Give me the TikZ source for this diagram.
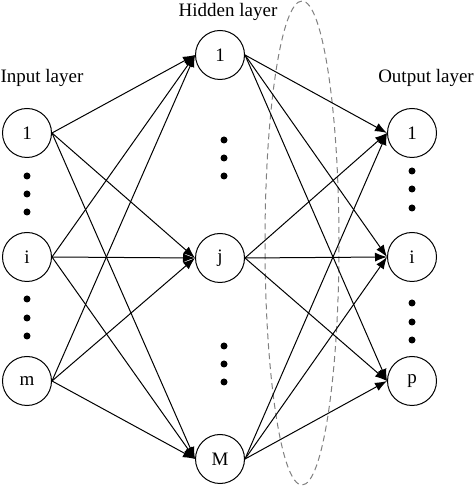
\documentclass[tikz,border=0pt]{standalone}
\usepackage{fontspec}
\setmainfont{Liberation Serif}
\usetikzlibrary{arrows.meta,shapes.geometric}
\begin{document}
\begin{tikzpicture}[x=1pt,y=1pt,
  neuron/.style={circle,draw,line width=1pt,minimum size=49pt,inner sep=0pt,font=\fontsize{19}{21}\selectfont},
  conn/.style={line width=1pt,-{Latex[length=12pt,width=9pt]}},
  lbl/.style={font=\fontsize{19}{21}\selectfont,inner sep=0pt},
  dotc/.style={circle,fill,inner sep=0pt,minimum size=7pt}]
\useasboundingbox (0,0) rectangle (475,500);
% input layer
\node[neuron] (i1) at (27,367) {1};
\node[neuron] (ii) at (27,243) {i};
\node[neuron] (im) at (27,119) {m};
% hidden layer
\node[neuron] (h1) at (220,445) {1};
\node[neuron] (hj) at (220,242) {j};
\node[neuron] (hM) at (220,41) {M};
% output layer
\node[neuron] (o1) at (412,367) {1};
\node[neuron] (oi) at (412,243) {i};
\node[neuron] (op) at (412,119) {p};
% labels
\node[lbl] (linput) at (42,422) {Input layer};
\node[lbl] (lhidden) at (228,488) {Hidden layer};
\node[lbl] (loutput) at (426,422) {Output layer};
% dots
\foreach \y [count=\k] in {324,306,288} {\node[dotc] (da\k) at (27,\y) {};}
\foreach \y [count=\k] in {201,182,164} {\node[dotc] (db\k) at (27,\y) {};}
\foreach \y [count=\k] in {360,342,324} {\node[dotc] (dc\k) at (224,\y) {};}
\foreach \y [count=\k] in {154,136,118} {\node[dotc] (dd\k) at (224,\y) {};}
\foreach \y [count=\k] in {329,311,292} {\node[dotc] (de\k) at (412,\y) {};}
\foreach \y [count=\k] in {197,178,160} {\node[dotc] (df\k) at (412,\y) {};}
% dashed ellipse
\node[draw=gray,dash pattern=on 6pt off 4pt,line width=1pt,ellipse,minimum width=74pt,minimum height=484pt,inner sep=0pt] (ell) at (302,257) {};
% connections
\foreach \a in {i1,ii,im}{\foreach \b in {h1,hj,hM}{\draw[conn] (\a.east) -- (\b.west);}}
\foreach \a in {h1,hj,hM}{\foreach \b in {o1,oi,op}{\draw[conn] (\a.east) -- (\b.west);}}
\end{tikzpicture}
\end{document}
